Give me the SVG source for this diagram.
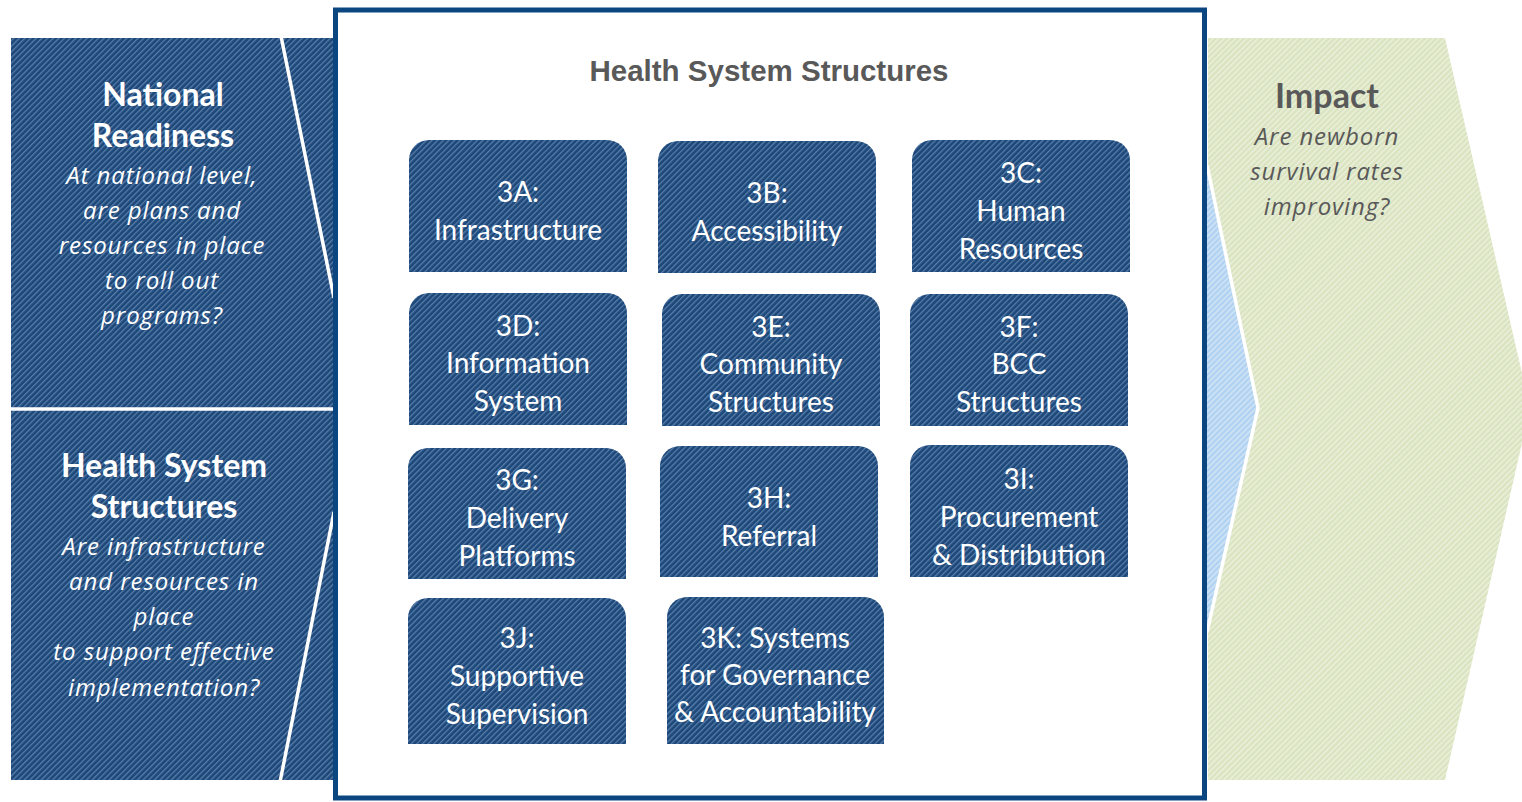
<svg xmlns="http://www.w3.org/2000/svg" width="1522" height="802" viewBox="0 0 1522 802">
<defs>
<pattern id="hBlue" width="4" height="4" patternUnits="userSpaceOnUse" patternTransform="rotate(45)">
<rect width="4" height="4" fill="#1c4879"/>
<rect width="1.3" height="4" fill="#5a7eaa"/>
</pattern>
<pattern id="hLight" width="4" height="4" patternUnits="userSpaceOnUse" patternTransform="rotate(45)">
<rect width="4" height="4" fill="#b0d2f2"/>
<rect width="1.5" height="4" fill="#d3e5f5"/>
</pattern>
<pattern id="hGreen" width="4" height="4" patternUnits="userSpaceOnUse" patternTransform="rotate(45)">
<rect width="4" height="4" fill="#dae3c0"/>
<rect width="1.6" height="4" fill="#eaf0da"/>
</pattern>
<style>
.nodebox{fill:url(#hBlue);}
.nt{font-family:Lato,"Open Sans",sans-serif;font-size:28px;fill:#ffffff;text-anchor:middle;}
.lh{font-family:Lato,"Open Sans",sans-serif;font-size:32px;font-weight:bold;fill:#ffffff;text-anchor:middle;}
.li{font-family:"Open Sans",Lato,sans-serif;font-size:24px;letter-spacing:0.9px;font-style:italic;fill:#ffffff;text-anchor:middle;}
.gh{font-family:Lato,"Open Sans",sans-serif;font-size:34px;font-weight:bold;fill:#595959;text-anchor:middle;}
.gi{font-family:"Open Sans",Lato,sans-serif;font-size:24px;letter-spacing:0.9px;font-style:italic;fill:#595959;text-anchor:middle;}
.sep{stroke:#ffffff;stroke-width:3.5;fill:none;}
</style>
</defs>

<g id="impact">
<path d="M1208,38 L1445,38 L1530,408 L1445,780 L1208,780 L1208,630 L1258,408 L1208,167 Z" fill="url(#hGreen)"/>
<text class="gh" x="1327" y="108">Impact</text>
<text class="gi" x="1327" y="145">Are newborn</text>
<text class="gi" x="1327" y="180">survival rates</text>
<text class="gi" x="1327" y="215">improving?</text>
</g>

<g id="hss-chevron">
<path d="M1150,167 L1208,167 L1258,408 L1208,630 L1150,630 Z" fill="url(#hLight)"/>
<polyline class="sep" points="1207,165 1258,408 1207,632"/>
</g>

<g id="national-readiness">
<rect x="11" y="38" width="324" height="370" fill="url(#hBlue)"/>
<line class="sep" x1="281" y1="36" x2="334" y2="298"/>
<text class="lh" x="163" y="106">National</text>
<text class="lh" x="163" y="147">Readiness</text>
<text class="li" x="162" y="184">At national level,</text>
<text class="li" x="162" y="219">are plans and</text>
<text class="li" x="162" y="254">resources in place</text>
<text class="li" x="162" y="289">to roll out</text>
<text class="li" x="162" y="324">programs?</text>
</g>

<g id="health-system-structures-left">
<rect x="11" y="410" width="324" height="370" fill="url(#hBlue)"/>
<line class="sep" x1="0" y1="409" x2="334" y2="409"/>
<line class="sep" x1="334" y1="512" x2="280" y2="782"/>
<text class="lh" x="164" y="477">Health System</text>
<text class="lh" x="164" y="518">Structures</text>
<text class="li" x="164" y="555">Are infrastructure</text>
<text class="li" x="164" y="590">and resources in</text>
<text class="li" x="164" y="625">place</text>
<text class="li" x="164" y="660">to support effective</text>
<text class="li" x="164" y="696">implementation?</text>
</g>

<g id="main-box">
<rect x="335.5" y="10" width="869" height="788" fill="#ffffff" stroke="#0b4680" stroke-width="5"/>
<text x="769" y="81" font-family="'Liberation Sans',Arial,sans-serif" font-size="29.5" font-weight="bold" fill="#595959" text-anchor="middle">Health System Structures</text>
</g>

<g id="node-3A">
<path class="nodebox" d="M409,272 V160 A20,20 0 0 1 429,140 H607 A20,20 0 0 1 627,160 V272 Z"/>
<text class="nt" x="518" y="202">3A:</text>
<text class="nt" x="518" y="240">Infrastructure</text>
</g>
<g id="node-3B">
<path class="nodebox" d="M658,273 V161 A20,20 0 0 1 678,141 H856 A20,20 0 0 1 876,161 V273 Z"/>
<text class="nt" x="767" y="203">3B:</text>
<text class="nt" x="767" y="241">Accessibility</text>
</g>
<g id="node-3C">
<path class="nodebox" d="M912,272 V160 A20,20 0 0 1 932,140 H1110 A20,20 0 0 1 1130,160 V272 Z"/>
<text class="nt" x="1021" y="183">3C:</text>
<text class="nt" x="1021" y="221">Human</text>
<text class="nt" x="1021" y="259">Resources</text>
</g>
<g id="node-3D">
<path class="nodebox" d="M409,425 V313 A20,20 0 0 1 429,293 H607 A20,20 0 0 1 627,313 V425 Z"/>
<text class="nt" x="518" y="336">3D:</text>
<text class="nt" x="518" y="373">Information</text>
<text class="nt" x="518" y="411">System</text>
</g>
<g id="node-3E">
<path class="nodebox" d="M662,426 V314 A20,20 0 0 1 682,294 H860 A20,20 0 0 1 880,314 V426 Z"/>
<text class="nt" x="771" y="337">3E:</text>
<text class="nt" x="771" y="374">Community</text>
<text class="nt" x="771" y="412">Structures</text>
</g>
<g id="node-3F">
<path class="nodebox" d="M910,426 V314 A20,20 0 0 1 930,294 H1108 A20,20 0 0 1 1128,314 V426 Z"/>
<text class="nt" x="1019" y="337">3F:</text>
<text class="nt" x="1019" y="374">BCC</text>
<text class="nt" x="1019" y="412">Structures</text>
</g>
<g id="node-3G">
<path class="nodebox" d="M408,579 V468 A20,20 0 0 1 428,448 H606 A20,20 0 0 1 626,468 V579 Z"/>
<text class="nt" x="517" y="490">3G:</text>
<text class="nt" x="517" y="528">Delivery</text>
<text class="nt" x="517" y="566">Platforms</text>
</g>
<g id="node-3H">
<path class="nodebox" d="M660,577 V466 A20,20 0 0 1 680,446 H858 A20,20 0 0 1 878,466 V577 Z"/>
<text class="nt" x="769" y="508">3H:</text>
<text class="nt" x="769" y="546">Referral</text>
</g>
<g id="node-3I">
<path class="nodebox" d="M910,577 V465 A20,20 0 0 1 930,445 H1108 A20,20 0 0 1 1128,465 V577 Z"/>
<text class="nt" x="1019" y="489">3I:</text>
<text class="nt" x="1019" y="527">Procurement</text>
<text class="nt" x="1019" y="565">&amp; Distribution</text>
</g>
<g id="node-3J">
<path class="nodebox" d="M408,744 V618 A20,20 0 0 1 428,598 H606 A20,20 0 0 1 626,618 V744 Z"/>
<text class="nt" x="517" y="648">3J:</text>
<text class="nt" x="517" y="686">Supportive</text>
<text class="nt" x="517" y="724">Supervision</text>
</g>
<g id="node-3K">
<path class="nodebox" d="M667,744 V617 A20,20 0 0 1 687,597 H864 A20,20 0 0 1 884,617 V744 Z"/>
<text class="nt" x="775" y="648">3K: Systems</text>
<text class="nt" x="775" y="685">for Governance</text>
<text class="nt" x="775" y="722">&amp; Accountability</text>
</g>

<g id="connectors"></g>
</svg>
